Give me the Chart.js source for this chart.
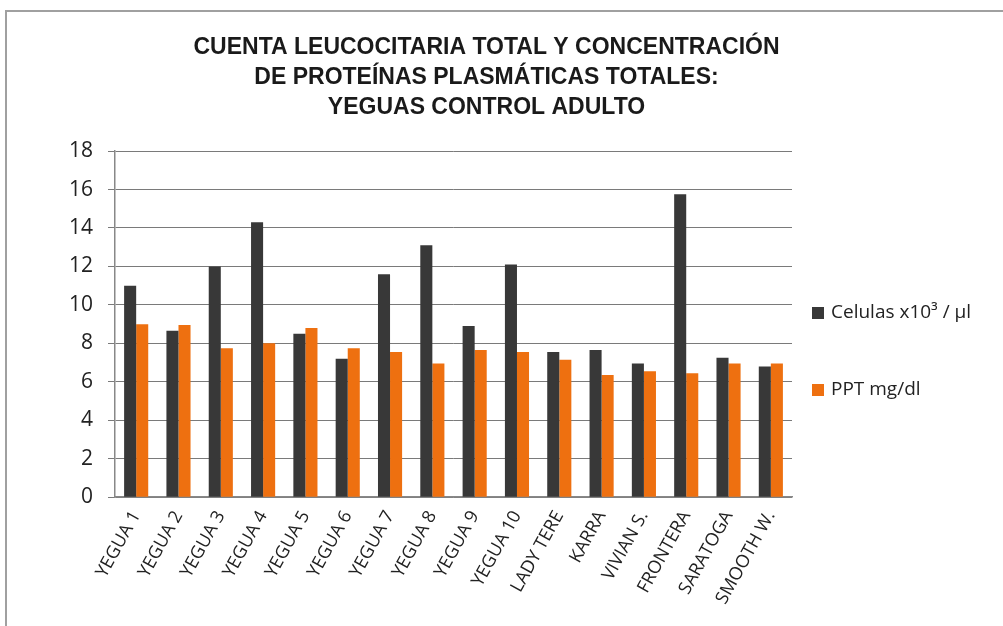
<!DOCTYPE html>
<html>
<head>
<meta charset="utf-8">
<script src="https://cdn.jsdelivr.net/npm/chart.js@4/dist/chart.umd.min.js"></script>
<style>
  body { margin: 0; background: #fff; }
  #wrap { position: relative; width: 1003px; height: 626px; overflow: hidden; }
  #frame { position: absolute; left: 5px; top: 10px; width: 1010px; height: 620px; border: 2px solid #a0a0a0; box-sizing: border-box; pointer-events: none; }
  canvas { position: absolute; left: 0; top: 0; }
</style>
</head>
<body>
<div id="wrap">
  <canvas id="myChart" width="1003" height="626"></canvas>
  <div id="frame"></div>
</div>
<script>
// horse names
var categories = ['YEGUA 1', 'YEGUA 2', 'YEGUA 3', 'YEGUA 4', 'YEGUA 5', 'YEGUA 6', 'YEGUA 7', 'YEGUA 8',
    'YEGUA 9', 'YEGUA 10', 'LADY TERE', 'KARRA', 'VIVIAN S.', 'FRONTERA', 'SARATOGA', 'SMOOTH W.'];

// leukocytes x10^3 / ul
var celulas = [11.0, 8.65, 12.0, 14.3, 8.5, 7.2, 11.6, 13.1, 8.9, 12.1, 7.55, 7.65, 6.95, 15.75, 7.25, 6.8];
// plasma proteins
var ppt = [9.0, 8.95, 7.75, 8.0, 8.8, 7.75, 7.55, 6.95, 7.65, 7.55, 7.15, 6.35, 6.55, 6.45, 6.95, 6.95];

var yTicks = [0, 2, 4, 6, 8, 10, 12, 14, 16, 18];

var font = '"Open Sans", "Noto Sans", sans-serif';

// legend on the right, items spaced wider than the built-in one allows
var sideLegend = {
    id: 'sideLegend',
    afterDraw: function (chart) {
        var c = chart.ctx;
        var x = chart.chartArea.right + 20;
        var ys = [313, 390];
        c.save();
        c.font = '19px ' + font;
        c.textBaseline = 'middle';
        chart.data.datasets.forEach(function (ds, i) {
            c.fillStyle = ds.backgroundColor;
            c.fillRect(x, ys[i] - 6, 12, 12);
            c.fillStyle = '#222';
            c.fillText(ds.label, x + 19, ys[i]);
        });
        c.restore();
    }
};

var ctx = document.getElementById('myChart').getContext('2d');
var myChart = new Chart(ctx, {
    type: 'bar',
    data: {
        labels: categories,
        datasets: [{
            label: 'Celulas x10³ / µl',
            data: celulas,
            backgroundColor: '#383838',
            borderWidth: 0
        }, {
            label: 'PPT mg/dl',
            data: ppt,
            backgroundColor: '#ee7010',
            borderWidth: 0
        }]
    },
    options: {
        responsive: false,
        animation: false,
        layout: { padding: { left: 54, right: 84, top: 32, bottom: 8 } },
        datasets: { bar: { categoryPercentage: 0.57, barPercentage: 1.0 } },
        plugins: {
            title: {
                display: true,
                text: ['CUENTA LEUCOCITARIA TOTAL Y CONCENTRACIÓN', 'DE PROTEÍNAS PLASMÁTICAS TOTALES:', 'YEGUAS CONTROL ADULTO'],
                color: '#1a1a1a',
                font: { family: '"Liberation Sans Narrow", "Liberation Sans", Arial', size: 23, weight: 'bold', lineHeight: 1.32 },
                padding: { top: 0, bottom: 28 }
            },
            legend: { display: false },
            tooltip: { enabled: false }
        },
        scales: {
            x: {
                grid: { display: false, drawTicks: false },
                border: { color: '#888', width: 1.5 },
                ticks: {
                    color: '#222',
                    font: { family: font, size: 18 },
                    minRotation: 61,
                    maxRotation: 61,
                    padding: 10
                }
            },
            y: {
                min: 0,
                max: 18,
                afterBuildTicks: function (axis) {
                    axis.ticks = yTicks.map(function (v) { return { value: v }; });
                },
                grid: { color: '#7a7a7a', lineWidth: 1, tickLength: 7 },
                border: { color: '#888', width: 1.5 },
                ticks: {
                    color: '#222',
                    font: { family: font, size: 21 },
                    padding: 15
                }
            },
            // empty axis that only reserves room for the legend
            legendSpace: {
                position: 'right',
                grid: { display: false },
                border: { display: false },
                ticks: { display: false },
                afterFit: function (axis) { axis.width = 127; }
            }
        }
    },
    plugins: [sideLegend]
});
</script>
</body>
</html>
